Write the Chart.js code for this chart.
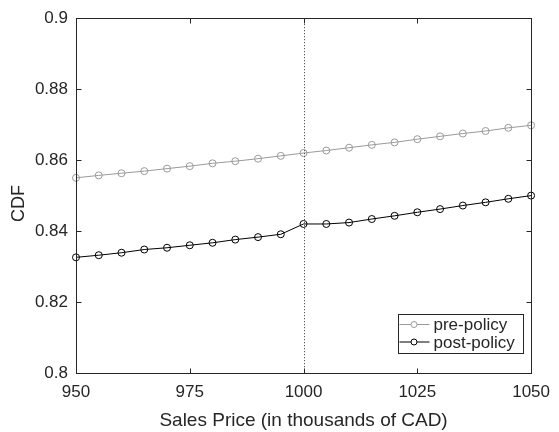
<!DOCTYPE html>
<html>
<head>
<meta charset="utf-8">
<script src="https://cdn.jsdelivr.net/npm/chart.js@4/dist/chart.umd.min.js"></script>
<style>
  html, body { margin: 0; padding: 0; background: #fff; }
  #wrap { width: 559px; height: 432px; position: relative; }
</style>
</head>
<body>
<div id="wrap"><canvas id="cdf"></canvas></div>
<script>
// Sales price grid (thousands of CAD)
const prices = [950, 955, 960, 965, 970, 975, 980, 985, 990, 995, 1000,
                1005, 1010, 1015, 1020, 1025, 1030, 1035, 1040, 1045, 1050];
// Empirical CDF before and after the policy
const prePolicy = [0.8550, 0.8557, 0.8563, 0.8569, 0.8576, 0.8583, 0.8591, 0.8597, 0.8604, 0.8612, 0.8620,
                   0.8627, 0.8635, 0.8643, 0.8650, 0.8659, 0.8667, 0.8675, 0.8682, 0.8691, 0.8698];
const postPolicy = [0.8326, 0.8332, 0.8339, 0.8348, 0.8353, 0.8360, 0.8367, 0.8376, 0.8383, 0.8391, 0.8420,
                    0.8420, 0.8424, 0.8434, 0.8443, 0.8453, 0.8462, 0.8472, 0.8481, 0.8491, 0.8500];
const xTicks = [950, 975, 1000, 1025, 1050];
const yTicks = [0.8, 0.82, 0.84, 0.86, 0.88, 0.9];
const policyPrice = 1000;
const seriesNames = ['pre-policy', 'post-policy'];
const xTitle = 'Sales Price (in thousands of CAD)';
const yTitle = 'CDF';

const INK = '#262626';
const FONT = '"Liberation Sans", Arial, Helvetica, sans-serif';
const PRE_COLOR = '#9a9a9a';
const POST_COLOR = '#000000';

// Box frame, inward ticks, policy marker line, y label and legend
const framePlugin = {
  id: 'frame',
  afterDatasetsDraw(chart) {
    const { ctx, chartArea: a, scales: { x, y } } = chart;
    ctx.save();
    // dotted vertical line at the policy price
    const px = Math.round(x.getPixelForValue(policyPrice)) + 0.5;
    ctx.strokeStyle = '#333';
    ctx.lineWidth = 1;
    ctx.setLineDash([1, 2]);
    ctx.beginPath();
    ctx.moveTo(px, a.top);
    ctx.lineTo(px, a.bottom);
    ctx.stroke();
    ctx.setLineDash([]);

    // frame
    ctx.strokeStyle = INK;
    const L = Math.round(a.left) + 0.5, R = Math.round(a.right) + 0.5;
    const T = Math.round(a.top) + 0.5, B = Math.round(a.bottom) + 0.5;
    ctx.strokeRect(L, T, R - L, B - T);

    // inward ticks
    const tl = 5;
    ctx.beginPath();
    xTicks.forEach(v => {
      const p = Math.round(x.getPixelForValue(v)) + 0.5;
      ctx.moveTo(p, B); ctx.lineTo(p, B - tl);
      ctx.moveTo(p, T); ctx.lineTo(p, T + tl);
    });
    yTicks.forEach(v => {
      const p = Math.round(y.getPixelForValue(v)) + 0.5;
      ctx.moveTo(L, p); ctx.lineTo(L + tl, p);
      ctx.moveTo(R, p); ctx.lineTo(R - tl, p);
    });
    ctx.stroke();

    // legend (lower right, inside the axes)
    const lw = 125, lh = 39;
    const lx = Math.round(a.right) - 133 + 0.5, ly = Math.round(a.bottom) - 59 + 0.5;
    ctx.fillStyle = '#fff';
    ctx.fillRect(lx, ly, lw, lh);
    ctx.strokeStyle = INK;
    ctx.strokeRect(lx, ly, lw, lh);
    const rows = [
      { name: seriesNames[0], color: PRE_COLOR, cy: ly + 10 },
      { name: seriesNames[1], color: POST_COLOR, cy: ly + 27.5 }
    ];
    ctx.font = '17px ' + FONT;
    ctx.textBaseline = 'middle';
    ctx.textAlign = 'left';
    rows.forEach(r => {
      ctx.strokeStyle = r.color;
      ctx.lineWidth = 1;
      ctx.beginPath();
      ctx.moveTo(lx + 1, r.cy); ctx.lineTo(lx + 31, r.cy);
      ctx.stroke();
      ctx.beginPath();
      ctx.arc(lx + 15.5, r.cy, 3, 0, Math.PI * 2);
      ctx.fillStyle = '#fff';
      ctx.fill();
      ctx.stroke();
      ctx.fillStyle = INK;
      ctx.fillText(r.name, lx + 35, r.cy + 1);
    });

    // y axis label
    ctx.save();
    ctx.translate(19, (a.top + a.bottom) / 2 + 8);
    ctx.rotate(-Math.PI / 2);
    ctx.font = '18px ' + FONT;
    ctx.fillStyle = INK;
    ctx.textAlign = 'center';
    ctx.textBaseline = 'middle';
    ctx.fillText(yTitle, 0, 0);
    ctx.restore();
    ctx.restore();
  }
};

new Chart(document.getElementById('cdf'), {
  type: 'line',
  data: {
    datasets: [
      {
        label: seriesNames[0],
        data: prices.map((p, i) => ({ x: p, y: prePolicy[i] })),
        borderColor: PRE_COLOR,
        borderWidth: 1,
        pointStyle: 'circle',
        pointRadius: 3.5,
        pointBorderWidth: 1,
        pointBorderColor: PRE_COLOR,
        pointBackgroundColor: 'rgba(255,255,255,0)',
        tension: 0,
        clip: false
      },
      {
        label: seriesNames[1],
        data: prices.map((p, i) => ({ x: p, y: postPolicy[i] })),
        borderColor: POST_COLOR,
        borderWidth: 1,
        pointStyle: 'circle',
        pointRadius: 3.5,
        pointBorderWidth: 1,
        pointBorderColor: POST_COLOR,
        pointBackgroundColor: 'rgba(255,255,255,0)',
        tension: 0,
        clip: false
      }
    ]
  },
  options: {
    responsive: true,
    maintainAspectRatio: false,
    animation: false,
    events: [],
    layout: { padding: { left: 0, right: 24, top: 16, bottom: 0 } },
    plugins: { legend: { display: false }, tooltip: { enabled: false } },
    scales: {
      x: {
        type: 'linear',
        min: 950,
        max: 1050,
        afterFit(s) { s.height = 59; },
        afterBuildTicks(s) { s.ticks = xTicks.map(v => ({ value: v })); },
        grid: { display: false, drawTicks: false },
        border: { display: false },
        ticks: {
          color: INK, font: { family: FONT, size: 17 }, padding: 9, maxRotation: 0,
          callback: v => String(v)
        },
        title: {
          display: true, text: xTitle, color: INK,
          font: { family: FONT, size: 19 }, padding: { top: 2, bottom: 0 }
        }
      },
      y: {
        type: 'linear',
        min: 0.8,
        max: 0.9,
        afterFit(s) { s.width = 76; },
        afterBuildTicks(s) { s.ticks = yTicks.map(v => ({ value: v })); },
        grid: { display: false, drawTicks: false },
        border: { display: false },
        ticks: {
          color: INK, font: { family: FONT, size: 17 }, padding: 8,
          callback: v => String(Math.round(v * 100) / 100)
        }
      }
    }
  },
  plugins: [framePlugin]
});
</script>
</body>
</html>
